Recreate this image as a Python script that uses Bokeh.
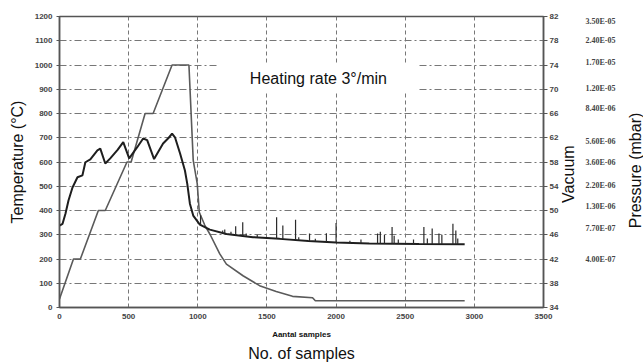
import math
from bokeh.plotting import figure
from bokeh.layouts import row
from bokeh.models import Range1d, LinearAxis, FixedTicker, Label, Title
from bokeh.embed import file_html
from bokeh.resources import INLINE

# ---------------- data ----------------
x_ticks = [0, 500, 1000, 1500, 2000, 2500, 3000, 3500]
temp_ticks = [0, 100, 200, 300, 400, 500, 600, 700, 800, 900, 1000, 1100, 1200]
vac_ticks = [34, 38, 42, 46, 50, 54, 58, 62, 66, 70, 74, 78, 82]
pressure_labels = ["3.50E-05", "2.40E-05", "1.70E-05", "1.20E-05", "8.40E-06",
                   "5.60E-06", "3.60E-06", "2.20E-06", "1.30E-06", "7.70E-07", "4.00E-07"]
pressure_at_vac = [81.2, 78.0, 74.4, 70.1, 66.8, 61.4, 58.0, 54.2, 50.7, 47.1, 41.9]

# heating programme / furnace temperature (grey line)
temp_samples = [0, 101, 151, 281, 331, 488, 518, 619, 677, 814, 936, 967, 996,
                1011, 1050, 1090, 1159, 1207, 1327, 1447, 1567, 1685, 1830, 1850, 2930]
temp_values = [35, 200, 200, 400, 400, 600, 600, 800, 800, 1000, 1000, 607, 511,
               393, 340, 300, 221, 179, 131, 90, 66, 46, 40, 28, 28]

# measured signal (black line)
meas_samples = [0, 22, 43, 65, 94, 130, 166, 187, 223, 274, 295, 331, 367, 420, 461,
                504, 562, 605, 634, 684, 749, 790, 814, 835, 872, 907, 924, 943, 967,
                1015, 1087, 1207, 1399, 1592, 1800, 2000, 2240, 2600, 2930]
meas_values = [338, 345, 387, 441, 495, 537, 545, 599, 611, 648, 655, 594, 615, 650, 682,
               615, 661, 697, 690, 612, 676, 700, 717, 702, 635, 565, 510, 428, 379,
               342, 321, 303, 290, 283, 274, 268, 264, 262, 261]

# spikes on the measured signal: sample, base, top
spike_samples = [1020, 1180, 1195, 1240, 1274, 1325, 1350, 1430, 1570, 1615, 1707, 1730,
                 1808, 1850, 1930, 2000, 2100, 2180, 2300, 2320, 2350, 2405, 2420, 2450,
                 2560, 2635, 2660, 2695, 2744, 2765, 2845, 2866, 2880]
spike_bases = [340, 306, 305, 300, 298, 295, 294, 289, 283, 282, 278, 277,
               274, 273, 270, 268, 266, 265, 264, 264, 264, 263, 263, 263,
               262, 262, 262, 262, 262, 262, 261, 261, 261]
spike_tops = [380, 318, 322, 312, 335, 352, 305, 300, 372, 338, 362, 290,
              305, 284, 306, 348, 275, 280, 305, 312, 300, 332, 296, 280,
              280, 332, 285, 326, 305, 300, 345, 318, 285]

FONT = "Liberation Sans"
TICK_COLOR = "#444444"
GRID_COLOR = "#777777"
TEXT_COLOR = "#111111"

MAIN_W = 561
TOTAL_W = 643
H = 364
TOP = 16
BOTTOM = 57

# ---------------- main chart ----------------
p = figure(width=MAIN_W, height=H, output_backend="svg", toolbar_location=None,
           x_range=Range1d(0, 3500), y_range=Range1d(0, 1200),
           min_border_left=59, min_border_right=16, min_border_top=TOP,
           min_border_bottom=BOTTOM)
p.background_fill_color = "white"
p.border_fill_color = "white"
p.outline_line_color = "#555555"
p.outline_line_width = 1.5

p.extra_y_ranges = {"vac": Range1d(34, 82)}

p.ygrid.ticker = FixedTicker(ticks=temp_ticks)
p.ygrid.grid_line_color = GRID_COLOR
p.ygrid.grid_line_dash = "7 3 2 3"
p.ygrid.grid_line_width = 1
p.xgrid.ticker = FixedTicker(ticks=x_ticks)
p.xgrid.grid_line_color = GRID_COLOR
p.xgrid.grid_line_dash = "4 3"
p.xgrid.grid_line_width = 1


def style_axis(ax):
    ax.major_label_text_font = FONT
    ax.major_label_text_font_size = "8px"
    ax.major_label_text_font_style = "bold"
    ax.major_label_text_color = TICK_COLOR
    ax.axis_label_text_font = FONT
    ax.axis_label_text_font_size = "16px"
    ax.axis_label_text_font_style = "normal"
    ax.axis_label_text_color = TEXT_COLOR
    ax.axis_line_color = "#555555"
    ax.axis_line_width = 1.5
    ax.major_tick_line_color = "#555555"
    ax.minor_tick_line_color = None
    ax.major_tick_in = 0
    ax.major_tick_out = 3


ya = p.yaxis[0]
ya.ticker = FixedTicker(ticks=temp_ticks)
ya.axis_label = "Temperature (°C)"
style_axis(ya)
ya.major_label_standoff = 4
ya.axis_label_standoff = 6

xa = p.xaxis[0]
xa.ticker = FixedTicker(ticks=x_ticks)
xa.axis_label = "Aantal samples"
style_axis(xa)
xa.major_tick_out = 0
xa.major_label_standoff = 6
xa.axis_label_text_font_size = "8px"
xa.axis_label_text_font_style = "bold"
xa.axis_label_standoff = 8

va = LinearAxis(y_range_name="vac", ticker=FixedTicker(ticks=vac_ticks))
style_axis(va)
va.major_tick_out = 4
va.major_label_standoff = 2
p.add_layout(va, "right")

p.line(temp_samples, temp_values, line_color="#5a5a5a", line_width=1.6)
p.line(meas_samples, meas_values, line_color="#1e1e1e", line_width=2)
p.segment(x0=spike_samples, y0=spike_bases, x1=spike_samples, y1=spike_tops,
          line_color="#2a2a2a", line_width=1.2)

p.add_layout(Label(x=1865, y=946, text="Heating rate 3°/min", text_align="center",
                   text_baseline="middle", text_font=FONT, text_font_size="16px",
                   text_color=TEXT_COLOR, background_fill_color="white",
                   padding=dict(left=32, right=30, top=6, bottom=5)))

p.add_layout(Title(text="No. of samples", align="center", text_font=FONT,
                   text_font_size="16px", text_font_style="normal",
                   text_color=TEXT_COLOR, standoff=3), "below")

# ---------------- right strip: vacuum / pressure titles and pressure scale ----------------
SIDE_W = TOTAL_W - MAIN_W
s = figure(width=SIDE_W, height=H, output_backend="svg", toolbar_location=None,
           x_range=Range1d(0, SIDE_W), y_range=Range1d(34, 82),
           x_axis_location=None, y_axis_location=None,
           min_border_left=0, min_border_right=0, min_border_top=TOP,
           min_border_bottom=BOTTOM)
s.grid.visible = False
s.outline_line_color = None
s.background_fill_color = "white"
s.border_fill_color = "white"

s.text(x=[24] * len(pressure_labels), y=pressure_at_vac, text=pressure_labels,
       text_align="left", text_baseline="middle", text_font=FONT,
       text_font_size="8px", text_font_style="bold", text_color=TICK_COLOR)

s.add_layout(Label(x=7, y=56.0, text="Vacuum", angle=math.pi / 2,
                   text_align="center", text_baseline="middle", text_font=FONT,
                   text_font_size="16px", text_color=TEXT_COLOR))
s.add_layout(Label(x=74, y=56.6, text="Pressure (mbar)", angle=math.pi / 2,
                   text_align="center", text_baseline="middle", text_font=FONT,
                   text_font_size="16px", text_color=TEXT_COLOR))

layout = row(p, s, spacing=0)
open("out.html", "w").write(file_html(layout, INLINE))
